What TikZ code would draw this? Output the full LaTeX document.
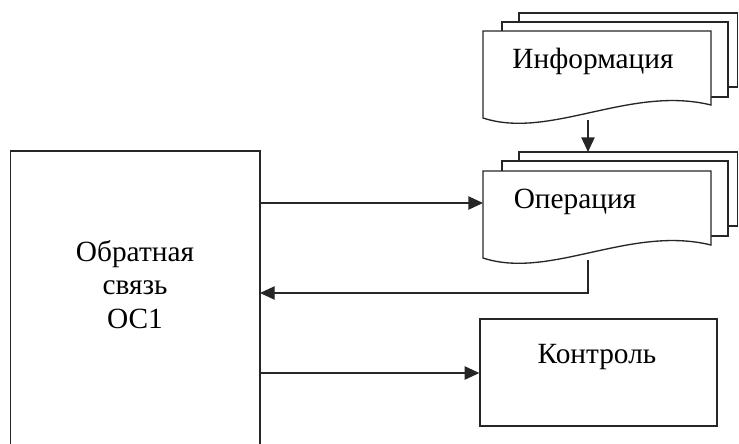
\documentclass[tikz,border=0pt]{standalone}
\usepackage{fontspec}
\setmainfont{Liberation Serif}
\usetikzlibrary{arrows.meta}
\tikzset{
  ln/.style={line width=1pt, draw=black!85},
  sheet/.style={ln, fill=white},
  arr/.style={ln, -{Triangle[length=11pt,width=10pt]}},
  lbl/.style={font=\fontsize{22}{25}\selectfont, anchor=base, inner sep=0pt},
  boxnode/.style={ln, draw, fill=white, minimum width=177.75pt, minimum height=80.25pt, inner sep=0pt}
}
\begin{document}
\begin{tikzpicture}[x=0.75pt,y=-0.75pt]
\useasboundingbox (0,0) rectangle (739,443);
\clip (0,0) rectangle (739,443);

% feedback block, running off the lower edge
\draw[ln] (10.5,460) -- (10.5,151) -- (260,151) -- (260,460);
\coordinate (fbR1) at (260,203);
\coordinate (fbR2) at (260,293);
\coordinate (fbR3) at (260,373);
\node[lbl, align=center] (fbtxt) at (135,328) {Обратная\\связь\\ОС1};

% stacked documents: "Информация"
\draw[sheet] (519,13) rectangle (737.5,87);
\draw[sheet] (502,22) rectangle (728,97);
\draw[sheet] (483,31) -- (711,31) -- (711,105)
  .. controls (630,85) and (550,140) .. (483,118) -- cycle;
\node[lbl] (info) at (593,68) {Информация};
\coordinate (infoB) at (588,120);

% stacked documents: "Операция"
\draw[sheet] (519,152) rectangle (737.5,226);
\draw[sheet] (502,161) rectangle (728,236);
\draw[sheet] (483,171) -- (711,171) -- (711,245)
  .. controls (630,225) and (550,280) .. (483,258) -- cycle;
\node[lbl] (oper) at (575,208) {Операция};
\coordinate (operT) at (588,152);
\coordinate (operL) at (483,203);
\coordinate (operB) at (588,260);

% control block
\node[boxnode] (ctrl) at (598.5,372.5) {};
\node[lbl] (ctrltxt) at (597,363) {Контроль};

% connectors
\draw[arr] (infoB) -- (operT);
\draw[arr] (fbR1) -- (operL);
\draw[arr] (operB) |- (fbR2);
\draw[arr] (fbR3) -- (ctrl.west |- fbR3);
\end{tikzpicture}
\end{document}
